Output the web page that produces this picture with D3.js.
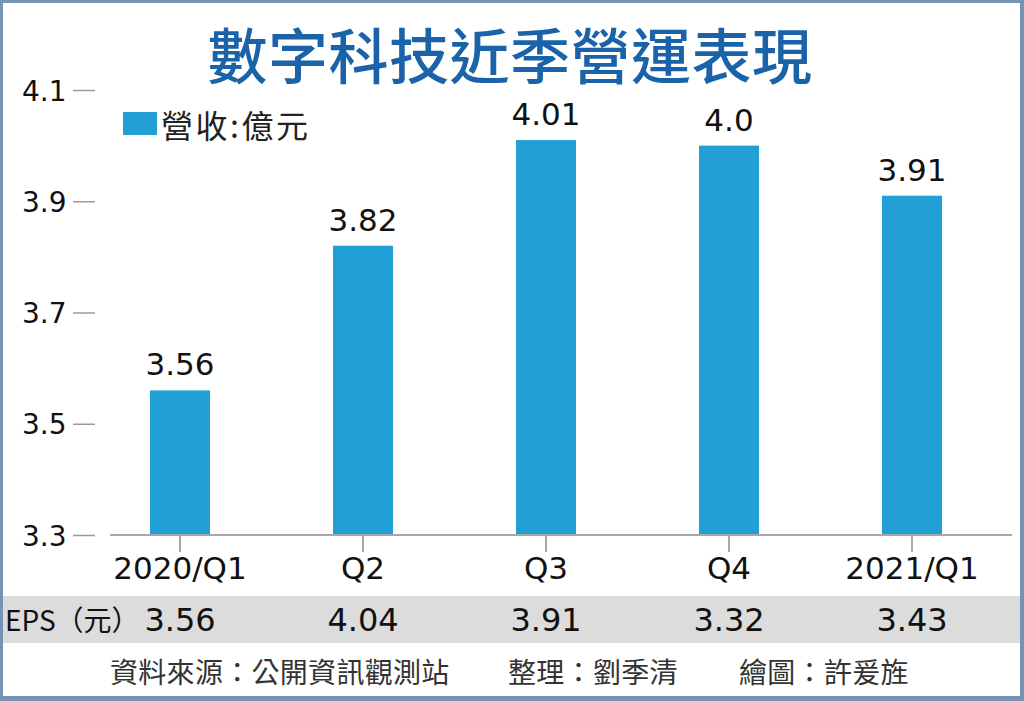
<!DOCTYPE html>
<html><head><meta charset="utf-8">
<script src="https://cdn.jsdelivr.net/npm/d3@7"></script>
<style>html,body{margin:0;padding:0;background:#fff;}svg{display:block;}</style>
</head><body>
<script>
const categories = ["2020/Q1","Q2","Q3","Q4","2021/Q1"];
const revenue = [3.56, 3.82, 4.01, 4.0, 3.91];
const revenueLabels = ["3.56","3.82","4.01","4.0","3.91"];
const eps = ["3.56","4.04","3.91","3.32","3.43"];
const yTicks = [3.3, 3.5, 3.7, 3.9, 4.1];
const title = "數字科技近季營運表現";
const legendText = "營收:億元";
const epsLabel = "EPS（元）";
const footer = ["資料來源：公開資訊觀測站", "整理：劉季清", "繪圖：許爰旌"];

const W = 1024, H = 701;
const numFont = "'DejaVu Sans', sans-serif";
const cjkFont = "'Noto Sans CJK TC', 'Noto Sans', sans-serif";
const svg = d3.select("body").append("svg").attr("width", W).attr("height", H);

// frame
svg.append("rect").attr("x",0).attr("y",0).attr("width",W).attr("height",H).attr("fill","#7593b3");
svg.append("rect").attr("x",3).attr("y",3).attr("width",W-7).attr("height",H-8).attr("fill","#fff");

const x = d3.scaleBand().domain(categories).range([88.5, 1003.5]).paddingInner(0.672).paddingOuter(0.336);
const y = d3.scaleLinear().domain([3.3, 4.1]).range([535, 90]);

// title
svg.append("text").attr("x", 510).attr("y", 52).attr("text-anchor","middle")
  .attr("dominant-baseline","central").attr("font-family", cjkFont).attr("font-weight", 500)
  .attr("font-size", 60).attr("letter-spacing", 0.5).attr("fill", "#1b63a8").text(title);

// y axis ticks (custom short ticks)
const yAxis = d3.axisLeft(y).tickValues(yTicks).tickFormat(d3.format(".1f")).tickSize(22).tickPadding(4);
const yg = svg.append("g").attr("transform","translate(95,0)").call(yAxis);
yg.select(".domain").remove();
yg.selectAll(".tick line").attr("stroke","#9a9a9a").attr("stroke-width",1.5);
yg.selectAll(".tick text").attr("font-family", numFont).attr("font-size", 28).attr("fill","#111")
  .attr("text-anchor","start").attr("x", -73).attr("dy","0.36em");

// bars
svg.append("g").selectAll("rect").data(categories).join("rect")
  .attr("x", d => x(d)).attr("width", x.bandwidth())
  .attr("y", (d,i) => y(revenue[i])).attr("height", (d,i) => y(3.3) - y(revenue[i]))
  .attr("fill", "#22a0d6");

// x baseline and ticks
const xAxis = d3.axisBottom(x).tickSize(17).tickSizeOuter(0).tickPadding(6);
const xg = svg.append("g").attr("transform","translate(0,535)").call(xAxis);
xg.select(".domain").attr("d", "M110,0H1012").attr("stroke","#a8a8a8").attr("stroke-width",2);
xg.selectAll(".tick line").attr("stroke","#a8a8a8").attr("stroke-width",2);
xg.selectAll(".tick text").attr("font-family", numFont).attr("font-size", 31).attr("fill","#111")
  .attr("dy","0.71em").attr("y", 22);

// value labels
svg.append("g").selectAll("text").data(categories).join("text")
  .attr("x", d => x(d) + x.bandwidth()/2).attr("y", (d,i) => y(revenue[i]) - 15)
  .attr("text-anchor","middle").attr("font-family", numFont).attr("font-size", 31).attr("fill","#111")
  .text((d,i) => revenueLabels[i]);

// legend
svg.append("rect").attr("x",123).attr("y",112).attr("width",34).attr("height",23).attr("fill","#22a0d6");
svg.append("text").attr("x",161).attr("y",124).attr("dominant-baseline","central")
  .attr("font-family", cjkFont).attr("font-size", 32).attr("letter-spacing", 2.5).attr("fill","#222").text(legendText);

// EPS band
svg.append("rect").attr("x",3).attr("y",596).attr("width",W-7).attr("height",47).attr("fill","#dcdcdc");
svg.append("text").attr("x",5).attr("y",619).attr("dominant-baseline","central")
  .attr("font-family", cjkFont).attr("font-size", 28).attr("fill","#111").text(epsLabel);
svg.append("g").selectAll("text").data(categories).join("text")
  .attr("x", d => x(d) + x.bandwidth()/2).attr("y", 631)
  .attr("text-anchor","middle").attr("font-family", numFont).attr("font-size", 32).attr("fill","#111")
  .text((d,i) => eps[i]);

// footer
const footX = [110, 508, 739];
svg.append("g").selectAll("text").data(footer).join("text")
  .attr("x", (d,i) => footX[i]).attr("y", 671).attr("dominant-baseline","central")
  .attr("font-family", cjkFont).attr("font-size", 28).attr("letter-spacing", 0.3).attr("fill","#333").text(d => d);
</script>
</body></html>
